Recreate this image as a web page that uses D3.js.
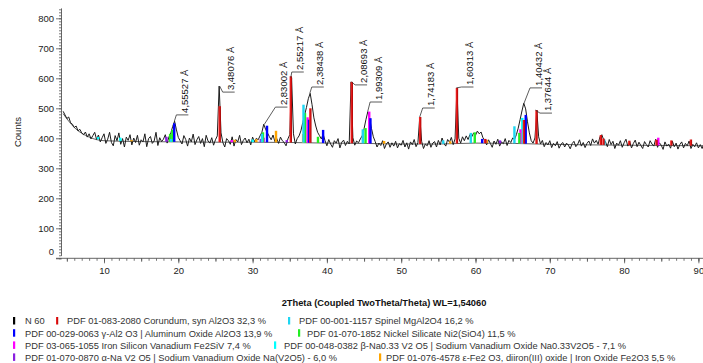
<!DOCTYPE html>
<html><head><meta charset="utf-8">
<script src="https://cdn.jsdelivr.net/npm/d3@7"></script>
<style>
body{margin:0;background:#fff;}
svg{display:block;font-family:Arial,"Liberation Sans",sans-serif;}
</style>
</head><body>
<svg id="c" width="703" height="363"></svg>
<script>
// ---------------- DATA ----------------
const scanStart = 4.5, scanStep = 0.25;   // 2Theta grid of the scan (degrees)
const counts = [
490,478,466,471,452,447,436,441,425,430,418,412,421,404,415,398,409,420,396,411,
388,402,415,383,397,420,386,375,409,392,418,380,399,371,404,393,412,378,401,386,
410,377,395,388,415,372,399,406,383,391,420,376,402,389,397,412,384,405,418,440,
457,428,403,392,381,409,396,374,401,388,414,379,395,406,383,399,372,410,391,384,
402,377,395,408,574,418,386,371,399,392,380,405,374,396,388,410,379,393,401,385,
397,378,404,389,400,395,408,420,447,430,418,406,395,411,389,399,383,404,392,386,
375,398,412,602,415,381,399,408,425,452,478,503,532,550,512,468,441,420,409,398,
414,392,375,396,381,370,392,384,399,368,387,394,376,390,381,588,402,377,391,385,
398,408,432,462,488,468,433,405,389,371,384,376,392,366,381,388,370,385,374,390,
368,382,377,393,371,385,364,388,379,396,372,385,471,390,366,381,375,392,370,384,
389,371,393,378,401,383,374,396,387,403,379,398,568,400,384,405,392,408,396,412,
405,418,410,424,415,421,402,392,378,395,383,370,391,380,397,374,388,382,399,376,
393,386,401,396,412,434,462,491,517,498,455,418,392,384,401,494,405,381,393,372,
386,378,392,369,383,375,389,367,380,386,371,384,377,365,382,390,372,380,395,374,
386,369,383,391,376,398,384,393,380,405,412,395,388,372,396,379,390,366,384,377,
392,370,385,397,374,388,368,383,394,372,387,376,366,389,379,371,392,381,374,397,
370,385,377,363,388,374,381,367,390,372,384,364,379,388,368,383,375,391,366,380,
372,385,368,379,366,383
];

// background curve
const bgTheta  = [4.5, 6, 8, 10, 15, 20, 25, 30, 35, 40, 45, 50, 55, 60, 65, 70, 80, 91];
const bgCounts = [482, 436, 404, 392, 389, 388, 387, 387, 386, 384, 383, 381, 381, 384, 383, 380, 377, 375];

// reference phases (stick patterns): 2Theta and top counts
const corTheta = [25.57, 35.14, 37.77, 43.35, 52.55, 57.50, 61.30, 66.52, 68.21, 76.87, 77.23, 80.70, 84.36, 86.36, 88.99];
const corTop   = [507, 607, 500, 588, 471, 568, 398, 461, 494, 411, 399, 392, 395, 393, 396];
const spiTheta = [19.03, 31.27, 36.85, 44.83, 55.66, 59.37, 65.24, 77.34];
const spiTop   = [398, 415, 512, 430, 393, 418, 440, 396];
const gamTheta = [19.45, 31.94, 37.60, 39.49, 45.86, 60.90, 66.76];
const gamTop   = [450, 442, 462, 428, 467, 398, 478];
const niTheta  = [18.90, 19.20, 31.40, 37.05, 38.80, 45.20, 59.90, 65.90];
const niTop    = [415, 428, 420, 484, 405, 434, 420, 418];
const fsvTheta = [27.20, 31.50, 37.40, 45.70, 66.05, 84.60];
const fsvTop   = [394, 402, 470, 489, 430, 402];
const betTheta = [9.20, 12.20, 30.00, 66.30];
const betTop   = [404, 402, 396, 468];
const alpTheta = [18.40, 31.10, 34.60, 61.30, 63.30];
const alpTop   = [405, 398, 394, 397, 393];
const epsTheta = [13.70, 27.60, 30.50, 33.15, 36.80, 47.70, 56.60, 61.50];
const epsTop   = [394, 395, 397, 425, 414, 391, 390, 395];

// d-spacing peak labels
const peakLabels = ["4,55527 Å","3,48076 Å","2,83002 Å","2,55217 Å","2,38438 Å","2,08693 Å","1,99309 Å","1,74183 Å","1,60313 Å","1,40432 Å","1,37644 Å"];
const peakTheta  = [19.47, 25.57, 31.59, 35.14, 37.70, 43.32, 45.48, 52.49, 57.44, 66.53, 68.06];
const labelCounts = [478, 554, 504, 621, 571, 578, 521, 501, 571, 568, 484];

// legend
const legendNames = [
  "N 60",
  "PDF 01-083-2080 Corundum, syn Al2O3 32,3 %",
  "PDF 00-001-1157 Spinel MgAl2O4 16,2 %",
  "PDF 00-029-0063 γ-Al2 O3 | Aluminum Oxide Al2O3 13,9 %",
  "PDF 01-070-1852 Nickel Silicate Ni2(SiO4) 11,5 %",
  "PDF 03-065-1055 Iron Silicon Vanadium Fe2SiV 7,4 %",
  "PDF 00-048-0382 β-Na0.33 V2 O5 | Sodium Vanadium Oxide Na0.33V2O5 - 7,1 %",
  "PDF 01-070-0870 α-Na V2 O5 | Sodium Vanadium Oxide Na(V2O5) - 6,0 %",
  "PDF 01-076-4578 ε-Fe2 O3, diiron(III) oxide | Iron Oxide Fe2O3 5,5 %"
];

const xTicks = [10, 20, 30, 40, 50, 60, 70, 80, 90];
const yTicks = [0, 100, 200, 300, 400, 500, 600, 700, 800];

// ---------------- STYLE / LAYOUT ----------------
const colors = ["#000000","#ff0000","#1ed6f2","#0000ff","#22ee22","#ff00ff","#00ffff","#8a1fe0","#ffa500"];
const phaseSets = [
  {t: epsTheta, v: epsTop, c: colors[8]},
  {t: alpTheta, v: alpTop, c: colors[7]},
  {t: betTheta, v: betTop, c: colors[6]},
  {t: fsvTheta, v: fsvTop, c: colors[5]},
  {t: niTheta,  v: niTop,  c: colors[4]},
  {t: spiTheta, v: spiTop, c: colors[2]},
  {t: gamTheta, v: gamTop, c: colors[3]},
  {t: corTheta, v: corTop, c: "url(#redg)"}
];
const legendLayout = [
  {row:0, mx:13, tx:25}, {row:0, mx:56, tx:67}, {row:0, mx:288, tx:299},
  {row:1, mx:13, tx:25}, {row:1, mx:298, tx:307},
  {row:2, mx:13, tx:25}, {row:2, mx:274, tx:284},
  {row:3, mx:13, tx:25}, {row:3, mx:379, tx:386}
];
const legendRowY = [321, 333.2, 345.4, 357.4];
const labelDx = [2, 3, 11, 1, 2, 3.5, 2.5, 3, 5, 6, 4.6];

const svg = d3.select("#c");
const defs = svg.append("defs");
const rg = defs.append("linearGradient").attr("id","redg").attr("x1","0").attr("x2","1").attr("y1","0").attr("y2","0");
rg.append("stop").attr("offset","0").attr("stop-color","#ff2a2a");
rg.append("stop").attr("offset","1").attr("stop-color","#b00000");

const x = d3.scaleLinear().domain([5, 90]).range([66.85, 698.4]);
const y = d3.scaleLinear().domain([0, 833]).range([258.3, 8.4]);
const bg = d3.scaleLinear().domain(bgTheta).range(bgCounts);

const scan = counts.map((c, i) => ({t: scanStart + i * scanStep, c}));

// axes
const axisColor = "#555";
const gyMinor = svg.append("g").attr("transform","translate(61.5,0)")
  .call(d3.axisLeft(y).tickValues(d3.range(0, 831, 10)).tickSize(2.5).tickFormat("").tickSizeOuter(0));
const gyMajor = svg.append("g").attr("transform","translate(61.5,0)")
  .call(d3.axisLeft(y).tickValues(yTicks).tickSize(5.5).tickPadding(2).tickSizeOuter(0));
[gyMinor, gyMajor].forEach(g => {
  g.select(".domain").remove();
  g.selectAll("line").attr("stroke", axisColor).attr("stroke-width", 0.8);
});
gyMajor.selectAll("text").attr("fill","#222").style("font-size","9.5px").style("font-family","Arial, 'Liberation Sans', sans-serif");
gyMajor.selectAll(".tick").filter(d => d === 0).select("text").attr("dy","-0.35em");
svg.append("line").attr("x1",61.5).attr("x2",61.5).attr("y1",y(833)).attr("y2",y(8))
  .attr("stroke",axisColor).attr("stroke-width",0.9);

const gxMinor = svg.append("g").attr("transform","translate(0,258.3)")
  .call(d3.axisBottom(x).tickValues(d3.range(5, 91, 1)).tickSize(2.5).tickFormat("").tickSizeOuter(0));
const gxMid = svg.append("g").attr("transform","translate(0,258.3)")
  .call(d3.axisBottom(x).tickValues(d3.range(5, 91, 5)).tickSize(3.5).tickFormat("").tickSizeOuter(0));
const gxMajor = svg.append("g").attr("transform","translate(0,258.3)")
  .call(d3.axisBottom(x).tickValues(xTicks).tickSize(5).tickPadding(4).tickSizeOuter(0));
[gxMinor, gxMid, gxMajor].forEach(g => {
  g.select(".domain").remove();
  g.selectAll("line").attr("stroke", axisColor).attr("stroke-width", 0.8);
});
gxMajor.selectAll("text").attr("fill","#222").style("font-size","9.5px").style("font-family","Arial, 'Liberation Sans', sans-serif");
svg.append("line").attr("x1",56).attr("x2",703).attr("y1",258.3).attr("y2",258.3)
  .attr("stroke",axisColor).attr("stroke-width",0.9);

// axis titles
svg.append("text").attr("transform","translate(21,132) rotate(-90)").attr("text-anchor","middle")
  .attr("fill","#222").style("font-size","9.5px").text("Counts");
svg.append("text").attr("x",384).attr("y",306).attr("text-anchor","middle")
  .attr("fill","#111").style("font-size","9.3px").style("font-weight","bold")
  .text("2Theta (Coupled TwoTheta/Theta) WL=1,54060");

// background curve
const bgPts = bgTheta.map((t, i) => ({t, c: bgCounts[i]}));
svg.append("path").datum(bgPts)
  .attr("d", d3.line().x(d => x(d.t)).y(d => y(d.c)).curve(d3.curveMonotoneX))
  .attr("fill","none").attr("stroke","#3a3a3a").attr("stroke-width",0.8);

// scan line
const clip = defs.append("clipPath").attr("id","plotclip");
clip.append("rect").attr("x",62).attr("y",0).attr("width",641).attr("height",258);
svg.append("path").datum(scan).attr("clip-path","url(#plotclip)")
  .attr("d", d3.line().x(d => x(d.t)).y(d => y(d.c)))
  .attr("fill","none").attr("stroke","#1c1c1c").attr("stroke-width",1).attr("stroke-linejoin","round");

// sticks
const sw = 2.4;
phaseSets.forEach(p => {
  svg.append("g").selectAll("rect").data(p.t.map((t, i) => ({t, v: p.v[i]}))).join("rect")
    .attr("x", d => x(d.t) - sw / 2)
    .attr("y", d => y(d.v))
    .attr("width", sw)
    .attr("height", d => Math.max(0, y(bg(d.t)) - y(d.v)))
    .attr("fill", p.c);
});

// peak labels
const lg = svg.append("g");
peakTheta.forEach((t, i) => {
  const near = scan.filter(d => Math.abs(d.t - t) <= 0.3);
  const top = d3.max(near, d => d.c);
  const px = x(t), py = y(top);
  const lx = px + labelDx[i], ly = y(labelCounts[i]);
  lg.append("path")
    .attr("d", `M${px},${py}L${lx},${ly}L${lx + 12},${ly}`)
    .attr("fill","none").attr("stroke","#333").attr("stroke-width",0.8);
  lg.append("text")
    .attr("transform", `translate(${lx + 11.5},${ly - 2}) rotate(-90)`)
    .attr("fill","#111").style("font-size","9.5px").text(peakLabels[i]);
});

// legend
const leg = svg.append("g");
legendNames.forEach((name, i) => {
  const L = legendLayout[i];
  const yy = legendRowY[L.row];
  leg.append("rect").attr("x", L.mx).attr("y", yy - 4).attr("width", 2.2).attr("height", 7.5)
    .attr("fill", i === 1 ? "url(#redg)" : colors[i]);
  leg.append("text").attr("x", L.tx).attr("y", yy + 3.3)
    .attr("fill","#333").style("font-size","9.3px").text(name);
});
</script>
</body></html>
